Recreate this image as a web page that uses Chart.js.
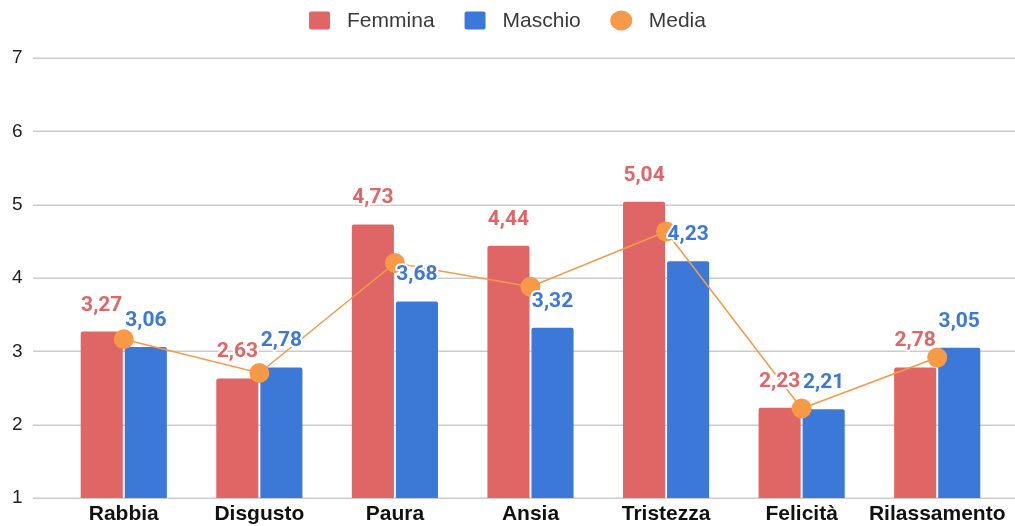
<!DOCTYPE html>
<html>
<head>
<meta charset="utf-8">
<script src="https://cdn.jsdelivr.net/npm/chart.js@4.4.1/dist/chart.umd.min.js"></script>
<style>
  html, body { margin: 0; padding: 0; background: #fff; }
  #chart { display: block; }
</style>
</head>
<body>
<canvas id="chart" width="1015" height="526"></canvas>
<script>
// data
const categories = ['Rabbia', 'Disgusto', 'Paura', 'Ansia', 'Tristezza', 'Felicità', 'Rilassamento'];
const femmina = [3.27, 2.63, 4.73, 4.44, 5.04, 2.23, 2.78];
const maschio = [3.06, 2.78, 3.68, 3.32, 4.23, 2.21, 3.05];
const media = [3.165, 2.705, 4.205, 3.88, 4.635, 2.22, 2.915];
const yTicks = [1, 2, 3, 4, 5, 6, 7];

const RED = '#e06666';
const BLUE = '#3c78d8';
const ORANGE = '#f79a48';

// horizontal grid lines that run past the plot area like the original
const gridPlugin = {
    id: 'gridLines',
    beforeDatasetsDraw(chart) {
        const ctx = chart.ctx;
        const y = chart.scales.y;
        ctx.save();
        ctx.strokeStyle = '#cbcbcb';
        ctx.lineWidth = 1.5;
        yTicks.forEach(v => {
            const py = Math.round(y.getPixelForValue(v)) + 0.25;
            ctx.beginPath();
            ctx.moveTo(33, py);
            ctx.lineTo(chart.width, py);
            ctx.stroke();
        });
        ctx.restore();
    }
};

// legend row at the top: squares for the bars, a dot for the line
const legendPlugin = {
    id: 'topLegend',
    afterDraw(chart) {
        const ctx = chart.ctx;
        const symW = 21, gapText = 17, gapItem = 30, cy = 20;
        ctx.save();
        ctx.font = '21px "Liberation Sans"';
        const items = chart.data.datasets.map(ds => ({
            text: ds.label,
            color: ds.backgroundColor,
            round: ds.type === 'line',
            w: ctx.measureText(ds.label).width
        }));
        let total = 0;
        items.forEach((it, i) => {
            total += symW + gapText + it.w + (i < items.length - 1 ? gapItem : 0);
        });
        let x = (chart.width - total) / 2;
        ctx.textBaseline = 'middle';
        ctx.textAlign = 'left';
        items.forEach(it => {
            ctx.fillStyle = it.color;
            ctx.beginPath();
            if (it.round) {
                ctx.ellipse(x + symW / 2, cy + 0.5, 11, 10, 0, 0, Math.PI * 2);
            } else {
                ctx.roundRect(x, cy - 8.5, symW, 18, 2);
            }
            ctx.fill();
            x += symW + gapText;
            ctx.fillStyle = '#3a3a3a';
            ctx.fillText(it.text, x, cy + 1);
            x += it.w + gapItem;
        });
        ctx.restore();
    }
};

// value labels above the bars
const labelPlugin = {
    id: 'barLabels',
    afterDatasetsDraw(chart) {
        const ctx = chart.ctx;
        ctx.save();
        ctx.font = 'bold 21px Roboto';
        ctx.textAlign = 'center';
        ctx.textBaseline = 'alphabetic';
        ctx.lineJoin = 'round';
        [0, 1].forEach(di => {
            const ds = chart.data.datasets[di];
            const meta = chart.getDatasetMeta(di);
            meta.data.forEach((el, i) => {
                const txt = ds.data[i].toFixed(2).replace('.', ',');
                const ty = el.y - 21;
                ctx.strokeStyle = '#fff';
                ctx.lineWidth = 4;
                ctx.strokeText(txt, el.x, ty);
                ctx.fillStyle = ds.backgroundColor;
                ctx.fillText(txt, el.x, ty);
            });
        });
        ctx.restore();
    }
};

new Chart(document.getElementById('chart'), {
    type: 'bar',
    data: {
        labels: categories,
        datasets: [
            {
                label: 'Femmina',
                data: femmina,
                backgroundColor: RED,
                borderRadius: { topLeft: 2, topRight: 2 },
                borderSkipped: 'bottom',
                categoryPercentage: 0.65,
                barPercentage: 0.955,
                order: 1
            },
            {
                label: 'Maschio',
                data: maschio,
                backgroundColor: BLUE,
                borderRadius: { topLeft: 2, topRight: 2 },
                borderSkipped: 'bottom',
                categoryPercentage: 0.65,
                barPercentage: 0.955,
                order: 1
            },
            {
                type: 'line',
                label: 'Media',
                data: media,
                borderColor: ORANGE,
                backgroundColor: ORANGE,
                borderWidth: 1.5,
                pointRadius: 10,
                pointBorderWidth: 0,
                pointBackgroundColor: ORANGE,
                tension: 0,
                order: 0
            }
        ]
    },
    options: {
        responsive: false,
        animation: false,
        events: [],
        layout: { padding: { left: 12, right: 10, top: 58, bottom: 0 } },
        plugins: {
            tooltip: { enabled: false },
            legend: { display: false }
        },
        scales: {
            x: {
                grid: { display: false, drawTicks: false },
                border: { display: false },
                ticks: {
                    padding: 4,
                    color: '#111',
                    font: { family: 'Liberation Sans', size: 21, weight: 'bold' },
                    maxRotation: 0,
                    autoSkip: false
                },
                afterFit(scale) { scale.height = 28; }
            },
            y: {
                min: 1,
                max: 7,
                grid: { display: false, drawTicks: false },
                border: { display: false },
                ticks: {
                    stepSize: 1,
                    crossAlign: 'far',
                    color: '#222',
                    font: { family: 'Liberation Sans', size: 19 }
                },
                afterFit(scale) { scale.width = 44; }
            }
        }
    },
    plugins: [gridPlugin, labelPlugin, legendPlugin]
});
</script>
</body>
</html>
